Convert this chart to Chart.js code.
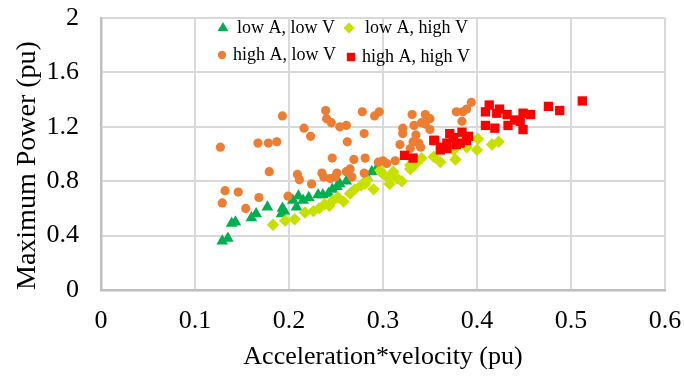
<!DOCTYPE html>
<html>
<head>
<meta charset="utf-8">
<script src="https://cdn.jsdelivr.net/npm/chart.js@4/dist/chart.umd.min.js"></script>
<style>
  html, body { margin: 0; padding: 0; background: #fff; }
  #wrap { width: 684px; height: 377px; position: relative; }
</style>
</head>
<body>
<div id="wrap"><canvas id="grafico"></canvas></div>
<script>
// low A, low V
const lowLowX = [0.129,0.135,0.139,0.143,0.160,0.165,0.177,0.192,0.195,0.204,0.208,0.210,0.215,0.221,0.231,0.236,0.242,0.251,0.254,0.261,0.283,0.288,0.293,0.193,0.246];
const lowLowY = [0.36,0.38,0.49,0.50,0.53,0.56,0.61,0.56,0.58,0.66,0.61,0.69,0.66,0.68,0.70,0.70,0.71,0.76,0.78,0.80,0.83,0.87,0.89,0.60,0.74];

// low A, high V
const lowHighX = [0.183,0.196,0.206,0.217,0.226,0.232,0.238,0.243,0.247,0.252,0.258,0.265,0.270,0.277,0.281,0.283,0.290,0.297,0.299,0.306,0.307,0.311,0.315,0.320,0.329,0.329,0.332,0.336,0.341,0.354,0.361,0.375,0.377,0.389,0.400,0.401,0.416,0.423];
const lowHighY = [0.48,0.51,0.52,0.57,0.58,0.60,0.63,0.62,0.66,0.68,0.65,0.71,0.74,0.77,0.78,0.81,0.74,0.88,0.86,0.82,0.78,0.87,0.82,0.80,0.92,0.89,0.91,0.94,0.97,0.98,0.94,1.03,0.96,1.05,1.03,1.11,1.07,1.09];

// high A, low V
const highLowX = [0.127,0.132,0.146,0.129,0.154,0.167,0.178,0.187,0.168,0.179,0.193,0.199,0.209,0.211,0.216,0.223,0.224,0.235,0.237,0.239,0.240,0.245,0.244,0.246,0.251,0.254,0.261,0.261,0.262,0.265,0.267,0.269,0.278,0.280,0.280,0.281,0.291,0.296,0.295,0.304,0.313,0.318,0.321,0.321,0.331,0.333,0.335,0.332,0.338,0.329,0.345,0.341,0.345,0.350,0.350,0.378,0.384,0.385,0.389,0.394,0.249,0.340,0.300];
const highLowY = [1.05,0.73,0.72,0.64,0.60,1.08,1.08,1.09,0.68,0.87,1.28,0.69,0.85,0.81,1.19,1.13,0.78,0.86,0.83,1.32,1.26,1.23,0.82,0.97,0.86,1.20,1.21,0.87,1.09,0.89,0.83,0.96,1.31,1.15,0.86,0.97,1.28,1.31,0.94,0.93,0.95,1.07,1.19,1.15,1.29,1.21,1.14,1.09,1.08,1.04,1.29,1.23,1.22,1.26,1.18,1.31,1.24,1.31,1.33,1.38,0.83,1.05,0.95];

// high A, high V
const highHighX = [0.323,0.332,0.355,0.362,0.361,0.368,0.371,0.375,0.378,0.384,0.391,0.382,0.389,0.354,0.368,0.409,0.413,0.421,0.424,0.432,0.440,0.446,0.449,0.457,0.409,0.419,0.433,0.449,0.476,0.488,0.512];
const highHighY = [0.99,0.97,1.10,1.05,1.03,1.08,1.15,1.12,1.07,1.16,1.13,1.08,1.10,1.10,1.04,1.31,1.36,1.30,1.33,1.29,1.25,1.24,1.30,1.29,1.21,1.19,1.21,1.18,1.35,1.32,1.39];

const xTicks = [0, 0.1, 0.2, 0.3, 0.4, 0.5, 0.6];
const yTicks = [0, 0.4, 0.8, 1.2, 1.6, 2];

const fuente = "'Liberation Serif', 'Times New Roman', serif";

function puntos(xs, ys) {
    return xs.map((x, i) => ({x: x, y: ys[i]}));
}

function etiqueta(v) {
    return String(Math.round(v * 10) / 10);
}

const series = [
    {label: 'low A, low V', data: puntos(lowLowX, lowLowY), pointStyle: 'triangle', pointRadius: 6.8, backgroundColor: '#00b050', order: 3},
    {label: 'low A, high V', data: puntos(lowHighX, lowHighY), pointStyle: 'rectRot', pointRadius: 6.2, backgroundColor: '#c8e000', order: 2},
    {label: 'high A, low V', data: puntos(highLowX, highLowY), pointStyle: 'circle', pointRadius: 4.6, backgroundColor: '#ed7d31', order: 1},
    {label: 'high A, high V', data: puntos(highHighX, highHighY), pointStyle: 'rect', pointRadius: 6.6, backgroundColor: '#ff0000', order: 0}
];
series.forEach(s => { s.borderWidth = 0; s.pointHoverRadius = s.pointRadius; });

// legend inside the plot, two rows of two
const leyendaPos = [
    {dx: 122, dy: 10, tx: 136},
    {dx: 248, dy: 10, tx: 264},
    {dx: 121, dy: 37, tx: 132},
    {dx: 250, dy: 39, tx: 261}
];

const leyendaPlugin = {
    id: 'leyendaDentro',
    afterDatasetsDraw(chart) {
        const ctx = chart.ctx;
        const area = chart.chartArea;
        ctx.save();
        chart.data.datasets.forEach((ds, i) => {
            const p = leyendaPos[i];
            ctx.fillStyle = ds.backgroundColor;
            Chart.helpers.drawPoint(ctx, {pointStyle: ds.pointStyle, radius: ds.pointRadius * 0.9, rotation: 0, borderWidth: 0}, area.left + p.dx, area.top + p.dy);
            ctx.fillStyle = '#000';
            ctx.font = '18px ' + fuente;
            ctx.textBaseline = 'middle';
            ctx.textAlign = 'left';
            ctx.fillText(ds.label, area.left + p.tx, area.top + p.dy);
        });
        ctx.restore();
    }
};

function init() {
    new Chart(document.getElementById('grafico').getContext('2d'), {
        type: 'scatter',
        data: {datasets: series},
        options: {
            responsive: true,
            maintainAspectRatio: false,
            animation: false,
            layout: {padding: 0},
            plugins: {legend: {display: false}, tooltip: {enabled: false}},
            scales: {
                x: {
                    type: 'linear', min: 0, max: 0.6,
                    afterBuildTicks: s => { s.ticks = xTicks.map(v => ({value: v})); },
                    afterFit: s => { s.height = 87; s.paddingLeft = 0; s.paddingRight = 19; },
                    grid: {color: '#d9d9d9', lineWidth: 2, drawTicks: false},
                    border: {color: '#bfbfbf', width: 2.5},
                    ticks: {color: '#000', padding: 16, font: {family: fuente, size: 26}, callback: etiqueta},
                    title: {display: true, text: 'Acceleration*velocity (pu)', color: '#000', padding: {top: 0, bottom: 4}, font: {family: fuente, size: 26}}
                },
                y: {
                    type: 'linear', min: 0, max: 2,
                    afterBuildTicks: s => { s.ticks = yTicks.map(v => ({value: v})); },
                    afterFit: s => { s.width = 101; s.paddingTop = 18; s.paddingBottom = 0; },
                    grid: {color: '#d9d9d9', lineWidth: 2, drawTicks: false},
                    border: {color: '#bfbfbf', width: 2.5},
                    ticks: {color: '#000', padding: 22, font: {family: fuente, size: 26}, callback: etiqueta},
                    title: {display: true, text: 'Maximum Power (pu)', align: 'start', color: '#000', padding: {top: 11, bottom: 0}, font: {family: fuente, size: 28}}
                }
            }
        },
        plugins: [leyendaPlugin]
    });
}

document.addEventListener('DOMContentLoaded', init);
</script>
</body>
</html>
